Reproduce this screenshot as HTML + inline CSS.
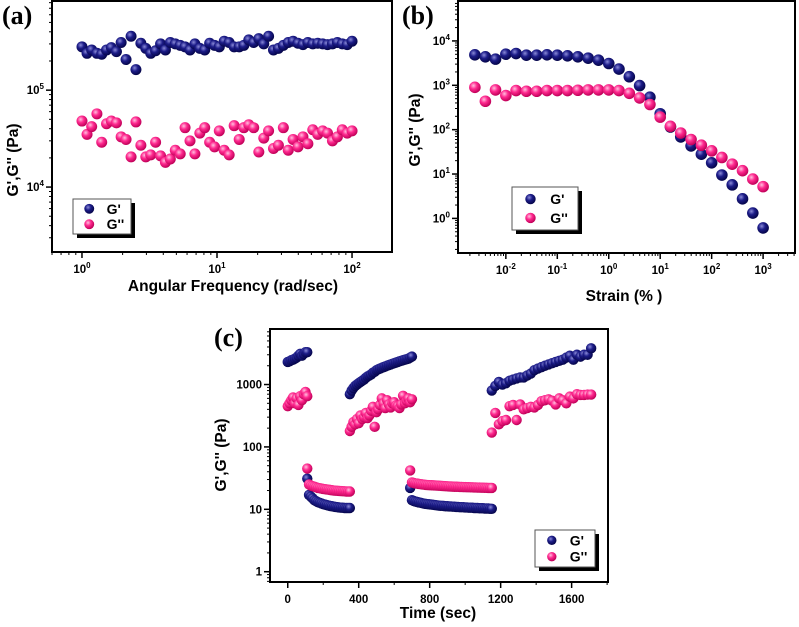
<!DOCTYPE html>
<html><head><meta charset="utf-8">
<style>
html,body{margin:0;padding:0;background:#fff;}
svg{display:block;font-family:"Liberation Sans",Arial,sans-serif;}
.lbl{font-family:"Liberation Serif",serif;font-weight:bold;font-size:26px;}
.tick{font-size:11.5px;font-weight:bold;}
.title{font-size:15.5px;font-weight:bold;}
.leg{font-size:14px;font-weight:bold;}
</style></head>
<body>
<svg id="fig" width="799" height="627" viewBox="0 0 799 627">
<defs>
<radialGradient id="gNavy" cx="0.38" cy="0.35" r="0.65">
<stop offset="0" stop-color="#8a8ad8"/><stop offset="0.45" stop-color="#1c1c88"/><stop offset="1" stop-color="#05054a"/>
</radialGradient>
<radialGradient id="gPink" cx="0.38" cy="0.35" r="0.65">
<stop offset="0" stop-color="#ffc0de"/><stop offset="0.45" stop-color="#ff2a90"/><stop offset="1" stop-color="#c00058"/>
</radialGradient>
</defs>
</svg>
<script>
// ---- panel (a) data ----
const freqA = [1,1.09,1.18,1.29,1.40,1.52,1.65,1.80,1.95,2.12,2.31,2.51,2.73,2.97,3.23,3.51,3.82,4.15,4.51,4.91,5.34,5.80,6.31,6.86,7.46,8.11,8.82,9.59,10.4,11.3,12.3,13.4,14.6,15.8,17.2,18.7,20.4,22.2,24.1,26.2,28.5,31.0,33.7,36.6,39.8,43.3,47.1,51.2,55.7,60.6,65.8,71.6,77.9,84.7,92.1,100];
const gpA = [2.8,2.4,2.6,2.4,2.35,2.6,2.75,2.5,3.1,2.07,3.6,1.63,3.05,2.7,2.4,2.55,3.0,2.6,3.1,3.0,2.9,2.8,2.6,3.0,2.7,2.6,3.05,2.9,2.8,3.2,3.1,2.8,2.8,2.9,3.3,3.1,3.4,3.0,3.6,2.6,2.7,2.9,3.1,3.2,3.05,2.95,3.1,3.0,3.05,3.0,2.95,3.0,3.1,3.0,2.95,3.2].map(v=>v*1e5);
const gppA = [4.8,3.5,4.2,5.7,2.9,4.5,4.8,4.6,3.3,3.1,2.05,4.7,2.7,2.05,2.15,2.9,2.1,1.8,1.95,2.4,2.2,4.1,3.0,2.2,3.6,4.1,2.9,2.6,3.8,2.4,2.15,4.3,3.1,4.1,4.4,4.1,2.3,3.2,3.8,2.5,2.7,4.1,2.4,3.1,2.6,3.3,2.8,3.9,3.5,3.8,3.6,3.0,3.3,3.9,3.6,3.8].map(v=>v*1e4);
const xTicksA = [0,1,2];
const yTicksA = [4,5];
// ---- panel (b) data ----
const strainB = [0.0025,0.004,0.0063,0.01,0.0158,0.0251,0.0398,0.0631,0.1,0.158,0.251,0.398,0.631,1,1.58,2.51,3.98,6.31,10,15.8,25.1,39.8,63.1,100,158,251,398,631,1000];
const gpB = [4860,4390,3890,5020,5200,4780,4780,4860,4780,4620,4390,4090,3690,3100,2320,1560,985,540,228,115,68.6,43,28,17.9,9.5,5.7,2.76,1.32,0.61];
const gppB = [900,437,787,588,762,734,734,762,762,762,773,787,787,787,762,660,520,369,192,119,84,60,44.6,33.3,23.6,16.7,11.9,7.7,5.2];
const xTicksB = [-2,-1,0,1,2,3];
const yTicksB = [0,1,2,3,4];
// ---- panel (c) data ----
const segStartC = [0,110,350,690,1150];
const segStepC = [10,10,10,10,20];
const gpC = [
 [2300,2350,2450,2500,2600,2700,2900,3100,2900,3100,3300,3300],
 [31,17,16,15,14,13.5,13,12.7,12.4,12.1,11.9,11.7,11.5,11.3,11.2,11.0,10.9,10.8,10.7,10.6,10.6,10.5,10.5,10.5,10.5],
 [700,800,880,950,1000,1050,1100,1150,1200,1280,1350,1400,1450,1550,1600,1700,1750,1800,1850,1900,1950,2000,2050,2100,2150,2200,2250,2300,2350,2400,2450,2500,2550,2600,2700,2800],
 [22,14,13.6,13.3,13.1,12.9,12.7,12.5,12.3,12.2,12.1,12,11.9,11.8,11.7,11.6,11.5,11.4,11.4,11.3,11.2,11.2,11.1,11.1,11,11,10.9,10.9,10.8,10.8,10.8,10.7,10.7,10.6,10.6,10.6,10.5,10.5,10.5,10.4,10.4,10.4,10.3,10.3,10.3,10.2,10.2],
 [800,950,1100,1000,1050,1150,1200,1250,1300,1300,1400,1500,1700,1800,1900,2000,2100,2200,2300,2400,2500,2700,2900,2500,3000,2800,3000,3000,3800]
];
const gppC = [
 [450,500,560,620,500,600,470,650,560,700,760,650],
 [45,25,24,23.5,23,22.5,22,21.8,21.5,21.2,21,20.8,20.6,20.4,20.2,20,19.9,19.8,19.7,19.6,19.5,19.4,19.3,19.3,19.3],
 [180,210,250,230,280,240,320,280,300,350,290,320,380,440,210,360,400,470,600,500,420,560,480,430,500,520,460,450,420,480,660,500,550,600,520,580],
 [42,27,26.5,26,25.8,25.5,25.3,25,24.8,24.6,24.5,24.4,24.3,24.2,24.1,24,23.9,23.8,23.7,23.6,23.5,23.4,23.3,23.2,23.1,23,23,22.9,22.8,22.8,22.7,22.7,22.6,22.6,22.5,22.5,22.4,22.4,22.3,22.3,22.2,22.2,22.1,22.1,22,22,22],
 [170,350,230,260,270,450,470,270,480,400,420,440,430,470,540,560,580,550,480,600,560,500,640,600,700,680,680,690,690]
];
const xTicksC = [0,400,800,1200,1600];
const yTicksC = [0,1,2,3];
const yTickLabelsC = ["1","10","100","1000"];

const NS="http://www.w3.org/2000/svg";
const svg=document.getElementById('fig');
function mk(tag,attrs,parent){const e=document.createElementNS(NS,tag);for(const k in attrs)e.setAttribute(k,attrs[k]);(parent||svg).appendChild(e);return e;}

function makePanel(p){
  const g=mk('g',{});
  
  
  const sx=v=>p.L+(v-p.xmin)/(p.xmax-p.xmin)*(p.R-p.L);
  const sy=v=>p.B-(v-p.ymin)/(p.ymax-p.ymin)*(p.B-p.T);
  const fr=mk('rect',{x:p.L,y:p.T,width:p.R-p.L,height:p.B-p.T,fill:'none',stroke:'#000','stroke-width':2},g);
  
  
  p.xTicks.forEach((t,i)=>{
    const x=sx(t);
    mk('line',{x1:x,x2:x,y1:p.B,y2:p.B+6,stroke:'#000','stroke-width':1.5},g);
    const tx=mk('text',{x:x,y:p.B+21,'text-anchor':'middle',class:'tick'},g);
    
    
    if(p.xlog){tx.textContent='10';const s=mk('tspan',{dy:-5,'font-size':8},tx);s.textContent=String(t);}
    else tx.textContent=String(t);
  });
  if(p.xlog){for(let d=Math.floor(p.xmin);d<p.xmax;d++)for(let m=2;m<10;m++){const v=d+Math.log10(m);if(v>p.xmin&&v<p.xmax){const x=sx(v);mk('line',{x1:x,x2:x,y1:p.B,y2:p.B+3,stroke:'#000','stroke-width':1},g);}}}
  else{for(let v=p.xTicks[0]+p.xMinor;v<p.xmax;v+=p.xMinor*2){const x=sx(v);mk('line',{x1:x,x2:x,y1:p.B,y2:p.B+3,stroke:'#000','stroke-width':1},g);}}
  p.yTicks.forEach((t,i)=>{
    const y=sy(t);
    mk('line',{x1:p.L-6,x2:p.L,y1:y,y2:y,stroke:'#000','stroke-width':1.5},g);
    const tx=mk('text',{x:p.L-8,y:y+4,'text-anchor':'end',class:'tick'},g);
    
    
    if(p.yLabels){tx.textContent=p.yLabels[i];}
    else{tx.textContent='10';const s=mk('tspan',{dy:-5,'font-size':8},tx);s.textContent=String(t);}
  });
  for(let d=Math.floor(p.ymin);d<p.ymax;d++)for(let m=2;m<10;m++){const v=d+Math.log10(m);if(v>p.ymin&&v<p.ymax){const y=sy(v);mk('line',{x1:p.L-3,x2:p.L,y1:y,y2:y,stroke:'#000','stroke-width':1},g);}}
  const xt=mk('text',{x:p.xtX,y:p.xtY,'text-anchor':'middle',class:'title'},g);
  xt.textContent=p.xTitle;
  
  
  const yt=mk('text',{x:0,y:0,'text-anchor':'middle',class:'title',transform:`translate(${p.ytX},${p.ytY}) rotate(-90)`},g);
  yt.textContent="G',G'' (Pa)";
  
  
  const pl=mk('text',{x:p.plX,y:p.plY,class:'lbl'},g);
  pl.textContent=p.label;
  
  
  p.series.forEach(s=>{
    const sg=mk('g',{},g);
    
    
    s.x.forEach((xv,i)=>{
      if(s.y[i]===undefined)return;
      const c=mk('circle',{cx:sx(p.xlog?Math.log10(xv):xv),cy:sy(Math.log10(s.y[i])),r:p.r,fill:s.fill},sg);
      
      
    });
  });
  const lg=mk('g',{},g);
  
  
  const [lx,ly,lw,lh]=p.leg;
  mk('rect',{x:lx+4,y:ly+4,width:lw,height:lh,fill:'#000'},lg);
  mk('rect',{x:lx,y:ly,width:lw,height:lh,fill:'#fff',stroke:'#555','stroke-width':1},lg);
  [["G'","url(#gNavy)"],["G''","url(#gPink)"]].forEach((e,i)=>{
    const yy=ly+lh*(0.28+0.44*i);
    mk('circle',{cx:lx+lw*0.28,cy:yy,r:p.r*0.9,fill:e[1]},lg);
    const t=mk('text',{x:lx+lw*0.58,y:yy+5,class:'leg'},lg);
    t.textContent=e[0];
    
    
  });
}

makePanel({name:'panel-a',label:'(a)',plX:2,plY:24,L:52,R:392,T:1,B:252,xlog:true,
  xmin:-0.222,xmax:2.296,ymin:3.33,ymax:5.92,xTicks:xTicksA,yTicks:yTicksA,r:5.5,
  xTitle:'Angular Frequency (rad/sec)',xtX:233,xtY:291,ytX:18,ytY:160,leg:[73,199,58,35],
  series:[{name:'series-g-prime',x:freqA,y:gpA,fill:'url(#gNavy)'},{name:'series-g-double-prime',x:freqA,y:gppA,fill:'url(#gPink)'}]});

makePanel({name:'panel-b',label:'(b)',plX:402,plY:24,L:458,R:795,T:1,B:253,xlog:true,
  xmin:-2.93,xmax:3.62,ymin:-0.78,ymax:4.9,xTicks:xTicksB,yTicks:yTicksB,r:5.8,
  xTitle:'Strain (% )',xtX:624,xtY:301,ytX:420,ytY:130,leg:[512,187,66,43],
  series:[{name:'series-g-prime',x:strainB,y:gpB,fill:'url(#gNavy)'},{name:'series-g-double-prime',x:strainB,y:gppB,fill:'url(#gPink)'}]});

const tC=[],gpCf=[],gppCf=[];
segStartC.forEach((st,k)=>{gpC[k].forEach((v,i)=>{tC.push(st+i*segStepC[k]);gpCf.push(v);gppCf.push(gppC[k][i]);});});
makePanel({name:'panel-c',label:'(c)',plX:214,plY:346,L:270,R:608,T:329,B:582,xlog:false,xMinor:200,
  xmin:-100,xmax:1805,ymin:-0.165,ymax:3.89,xTicks:xTicksC,yTicks:yTicksC,yLabels:yTickLabelsC,r:5.2,
  xTitle:'Time (sec)',xtX:438,xtY:618,ytX:226,ytY:455,leg:[535,530,60,37],
  series:[{name:'series-g-prime',x:tC,y:gpCf,fill:'url(#gNavy)'},{name:'series-g-double-prime',x:tC,y:gppCf,fill:'url(#gPink)'}]});
</script>
</body></html>
